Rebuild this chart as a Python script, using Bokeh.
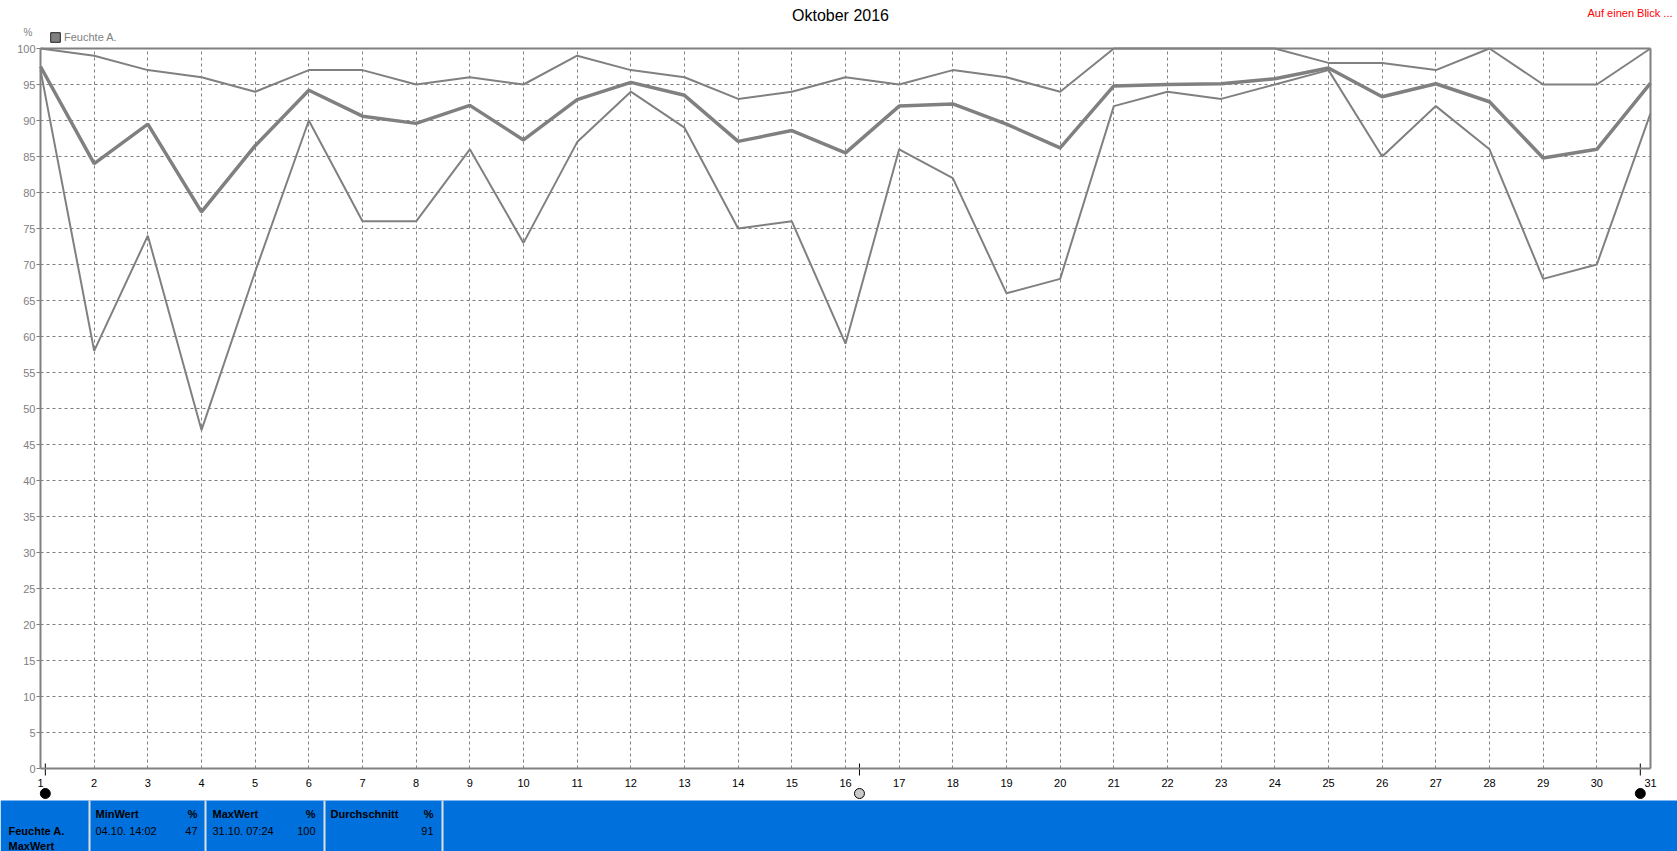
from bokeh.plotting import figure
from bokeh.models import (Range1d, FixedTicker, LinearAxis, Legend, LegendItem,
                          Label, BoxAnnotation)
from bokeh.embed import file_html
from bokeh.resources import INLINE

# ---------------- data ----------------
days = list(range(1, 32))
max_vals = [100, 99, 97, 96, 94, 97, 97, 95, 96, 95, 99, 97, 96, 93, 94, 96,
            95, 97, 96, 94, 100, 100, 100, 100, 98, 98, 97, 100, 95, 95, 100]
mean_vals = [97.5, 84.0, 89.5, 77.3, 86.5, 94.2, 90.6, 89.6, 92.1, 87.3, 92.9,
             95.3, 93.5, 87.1, 88.6, 85.5, 92.0, 92.3, 89.5, 86.2, 94.8, 95.0,
             95.1, 95.8, 97.3, 93.3, 95.1, 92.6, 84.8, 86.0, 95.2]
min_vals = [97, 58, 74, 47, 69, 90, 76, 76, 86, 73, 87, 94, 89, 75, 76, 59,
            86, 82, 66, 68, 92, 94, 93, 95, 97, 85, 92, 86, 68, 70, 91]
y_ticks = list(range(0, 101, 5))

# slider handles under the time axis
marker_days = [1.09, 16.26, 30.81]
marker_fill = ["black", "#C8C8C8", "black"]

title_text = "Oktober 2016"
series_name = "Feuchte A."
unit = "%"
link_text = "Auf einen Blick ..."
stat_headers = ["MinWert", "MaxWert", "Durchschnitt"]
stat_when = ["04.10.  14:02", "31.10.  07:24", ""]
stat_values = ["47", "100", "91"]
row_label = "MaxWert"

GRAY = "#808080"
BLUE = "#0070DD"
FONT = "Liberation Sans"

# ---------------- geometry (canvas pixels) ----------------
W, H = 1677, 851
X_LEFT, X_RIGHT = 40, 1650      # pixel of day 1 / day 31
Y_TOP, Y_ZERO = 48, 768         # pixel of 100 % / 0 %
px_day = (X_RIGHT - X_LEFT) / 30
px_pct = (Y_ZERO - Y_TOP) / 100

x_range = Range1d(1 - X_LEFT / px_day, 31 + (W - X_RIGHT) / px_day)
y_range = Range1d(-(H - Y_ZERO) / px_pct, 100 + Y_TOP / px_pct)

p = figure(width=W, height=H, x_range=x_range, y_range=y_range,
           min_border=0, output_backend="svg", toolbar_location=None)
p.outline_line_color = None

# axes placed at the data origin
p.xaxis.fixed_location = 0
p.yaxis.fixed_location = 1
p.xaxis.bounds = (1, 31)
p.yaxis.bounds = (0, 100)
p.xaxis.ticker = FixedTicker(ticks=days)
p.yaxis.ticker = FixedTicker(ticks=y_ticks)
for ax in (p.xaxis[0], p.yaxis[0]):
    ax.axis_line_color = GRAY
    ax.axis_line_width = 2
    ax.major_label_text_font = FONT
    ax.major_label_text_font_size = "11px"
    ax.minor_tick_line_color = None
p.xaxis.major_tick_line_color = None
p.xaxis.major_tick_out = 0
p.xaxis.major_label_text_color = "black"
p.xaxis.major_label_standoff = 10
p.yaxis.major_tick_line_color = GRAY
p.yaxis.major_tick_in = 0
p.yaxis.major_tick_out = 4
p.yaxis.major_label_standoff = 1
p.yaxis.major_label_text_color = GRAY

# frame: right and top edges
right_axis = LinearAxis(ticker=FixedTicker(ticks=[]), bounds=(0, 100),
                        fixed_location=31, axis_line_color=GRAY,
                        axis_line_width=2, major_tick_out=0, major_tick_in=0,
                        minor_tick_out=0, minor_tick_in=0,
                        major_label_standoff=0)
top_axis = LinearAxis(ticker=FixedTicker(ticks=[]), bounds=(1, 31),
                      fixed_location=100, axis_line_color=GRAY,
                      axis_line_width=2, major_tick_out=0, major_tick_in=0,
                      minor_tick_out=0, minor_tick_in=0, major_label_standoff=0)
p.add_layout(right_axis, "right")
p.add_layout(top_axis, "above")

# grid
p.xgrid.ticker = FixedTicker(ticks=days[1:-1])
p.ygrid.ticker = FixedTicker(ticks=y_ticks[1:-1])
p.xgrid.cross_bounds = (0, 100)
p.ygrid.cross_bounds = (1, 31)
for g in (p.xgrid[0], p.ygrid[0]):
    g.grid_line_color = GRAY
    g.grid_line_dash = "3 3"
    g.grid_line_width = 1

# series
p.line(days, max_vals, line_color=GRAY, line_width=2)
p.line(days, min_vals, line_color=GRAY, line_width=2)
p.line(days, mean_vals, line_color=GRAY, line_width=3.5)

# slider handles
p.segment(x0=marker_days, x1=marker_days, y0=[5 / px_pct] * 3,
          y1=[-7 / px_pct] * 3, line_color="black", line_width=1)
p.scatter(x=marker_days, y=[-25 / px_pct] * 3, size=10, fill_color=marker_fill,
          line_color="black", line_width=1)

# legend (filled grey square)
nan = float("nan")
sq = p.quad(left=[nan], right=[nan], top=[nan], bottom=[nan], fill_color=GRAY,
            line_color="#202020", line_width=1)
legend = Legend(items=[LegendItem(label=series_name, renderers=[sq])],
                location=(49, H - 43), padding=0, margin=0, spacing=0,
                glyph_width=12, glyph_height=12, label_height=12,
                label_standoff=3, border_line_alpha=0,
                background_fill_alpha=0, label_text_font=FONT,
                label_text_font_size="11px", label_text_color=GRAY)
p.add_layout(legend, "center")


def label(x, y, text, align="left", size="11px", color="black", bold=False):
    p.add_layout(Label(x=x, y=y, x_units="canvas", y_units="canvas", text=text,
                       text_align=align, text_baseline="middle",
                       text_font=FONT, text_font_size=size, text_color=color,
                       text_font_style="bold" if bold else "normal"))


label(840, 15, title_text, align="center", size="16px")
label(1672, 12, link_text, align="right", color="red")
label(23, 32, unit, size="10px", color=GRAY)

# ---------------- bottom statistics panel ----------------
p.add_layout(BoxAnnotation(left=0, right=W, top=800, bottom=H,
                           left_units="canvas", right_units="canvas",
                           top_units="canvas", bottom_units="canvas",
                           fill_color=BLUE, fill_alpha=1, line_alpha=0))
for xd in (88, 204, 323, 441):
    p.add_layout(BoxAnnotation(left=xd, right=xd + 2, top=800, bottom=H,
                               left_units="canvas", right_units="canvas",
                               top_units="canvas", bottom_units="canvas",
                               fill_color="#E0E0E0", fill_alpha=1, line_alpha=0))

col_left = [95, 212, 330]
col_right = [197, 315, 433]
for i in range(3):
    label(col_left[i], 813, stat_headers[i], bold=True)
    label(col_right[i], 813, unit, align="right", bold=True)
    if stat_when[i]:
        label(col_left[i], 830, stat_when[i])
    label(col_right[i], 830, stat_values[i], align="right")
label(8, 830, series_name, bold=True)
label(8, 845, row_label, bold=True)

open("out.html", "w").write(file_html(p, INLINE))
